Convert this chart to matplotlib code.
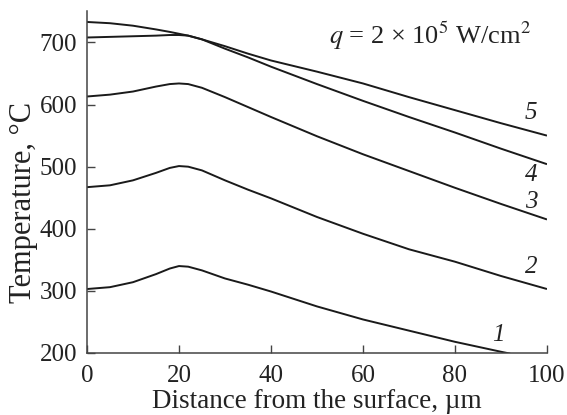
import matplotlib
matplotlib.use("Agg")
import matplotlib.pyplot as plt

# distance from the surface, um
x1 = [0, 5, 10, 15, 18, 20, 22, 25, 30, 35, 40, 50, 60, 70, 80, 90, 92]
t1 = [303, 306, 314, 327, 336, 340, 339, 333, 320, 310, 299, 275, 254, 236, 218, 202, 199]

x2 = [0, 5, 10, 15, 18, 20, 22, 25, 30, 35, 40, 50, 60, 70, 80, 90, 100]
t2 = [467, 470, 478, 490, 498, 501, 500, 494, 478, 463, 449, 419, 392, 367, 347, 324, 303]
t3 = [613, 616, 621, 629, 633, 634, 633, 627, 612, 596, 580, 549, 520, 493, 466, 440, 415]
t4 = [708, 709, 710, 711, 712, 712, 711, 705, 690, 676, 661, 633, 606, 580, 555, 529, 504]
t5 = [733, 731, 727, 721, 717, 714, 711, 705, 694, 682, 671, 653, 634, 612, 591, 570, 550]

curve_labels = ["1", "2", "3", "4", "5"]
label_pos = [(89.5, 229), (96.5, 338), (96.5, 443), (96.5, 487), (96.5, 586)]

plt.rcParams["font.family"] = ["Liberation Serif", "DejaVu Serif"]
plt.rcParams["mathtext.fontset"] = "stix"

fig = plt.figure(figsize=(5.67, 4.15), dpi=100)
ax = fig.add_axes([0.1534, 0.1494, 0.9647 - 0.1534, 0.9725 - 0.1494])

for xs, ts in [(x1, t1), (x2, t2), (x2, t3), (x2, t4), (x2, t5)]:
    ax.plot(xs, ts, color="#1a1a1a", lw=1.4, solid_capstyle="butt")

for lab, (lx, ly) in zip(curve_labels, label_pos):
    ax.text(lx, ly, lab, fontsize=18, style="italic", ha="center", va="center",
            color="#222222")

ax.text(96.5, 710, r"$q$ = 2 × 10$^5$ W/cm$^2$", fontsize=19, ha="right",
        va="center", color="#222222")

ax.set_xlim(0, 100)
ax.set_ylim(200, 750)
ax.set_xticks([0, 20, 40, 60, 80, 100])
ax.set_yticks([200, 300, 400, 500, 600, 700])
ax.spines["top"].set_visible(False)
ax.spines["right"].set_visible(False)
for s in ("left", "bottom"):
    ax.spines[s].set_color("#444444")
    ax.spines[s].set_linewidth(1.1)
ax.tick_params(direction="in", length=6, width=1.0, color="#444444",
               labelsize=18, labelcolor="#222222")
ax.tick_params(axis="y", pad=7)
ax.tick_params(axis="x", pad=9)

ax.set_xlabel("Distance from the surface, µm", fontsize=19.5, color="#222222")
ax.xaxis.set_label_coords(0.5, -0.105)
ax.set_ylabel("Temperature, °C", fontsize=22, color="#222222")
ax.yaxis.set_label_coords(-0.106, 0.44)

fig.savefig("out.png", dpi=100)
